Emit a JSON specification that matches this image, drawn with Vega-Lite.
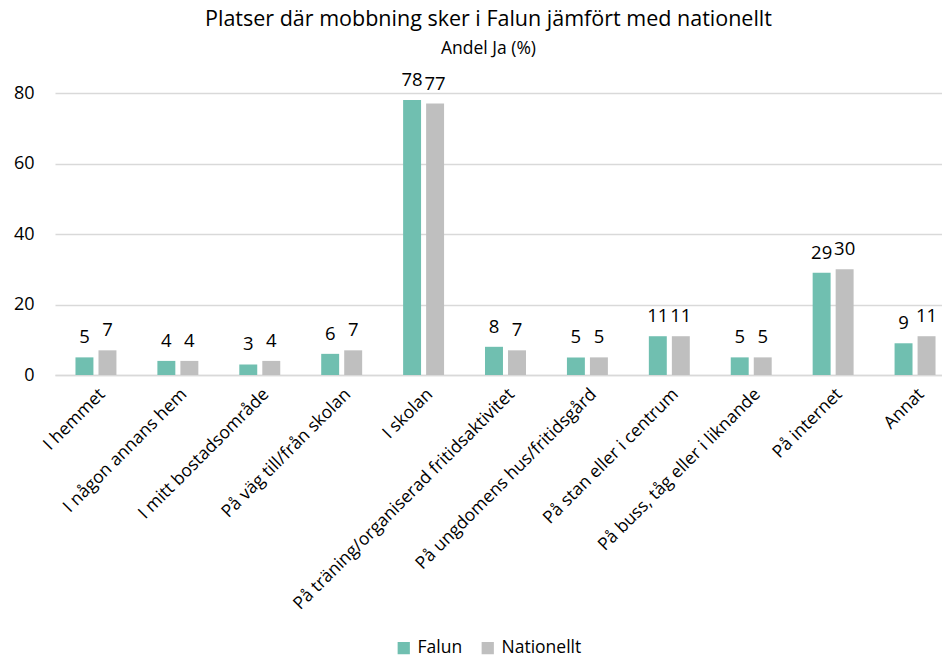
{
  "$schema": "https://vega.github.io/schema/vega-lite/v6.json",
  "width": 887,
  "height": 282,
  "autosize": "none",
  "padding": {"left": 55, "top": 93, "right": 0, "bottom": 285},
  "background": "white",
  "title": {
    "text": "Platser där mobbning sker i Falun jämfört med nationellt",
    "subtitle": "Andel Ja (%)",
    "font": "Open Sans",
    "fontSize": 21.5,
    "fontWeight": "normal",
    "color": "#000000",
    "subtitleFont": "Open Sans",
    "subtitleFontSize": 17.5,
    "subtitleColor": "#000000",
    "subtitlePadding": 9,
    "anchor": "middle",
    "dx": -10,
    "offset": 14
  },
  "data": {
    "values": [
      {"plats": "I hemmet", "serie": "Falun", "andel": 5},
      {"plats": "I hemmet", "serie": "Nationellt", "andel": 7},
      {"plats": "I någon annans hem", "serie": "Falun", "andel": 4},
      {"plats": "I någon annans hem", "serie": "Nationellt", "andel": 4},
      {"plats": "I mitt bostadsområde", "serie": "Falun", "andel": 3},
      {"plats": "I mitt bostadsområde", "serie": "Nationellt", "andel": 4},
      {"plats": "På väg till/från skolan", "serie": "Falun", "andel": 6},
      {"plats": "På väg till/från skolan", "serie": "Nationellt", "andel": 7},
      {"plats": "I skolan", "serie": "Falun", "andel": 78},
      {"plats": "I skolan", "serie": "Nationellt", "andel": 77},
      {"plats": "På träning/organiserad fritidsaktivitet", "serie": "Falun", "andel": 8},
      {"plats": "På träning/organiserad fritidsaktivitet", "serie": "Nationellt", "andel": 7},
      {"plats": "På ungdomens hus/fritidsgård", "serie": "Falun", "andel": 5},
      {"plats": "På ungdomens hus/fritidsgård", "serie": "Nationellt", "andel": 5},
      {"plats": "På stan eller i centrum", "serie": "Falun", "andel": 11},
      {"plats": "På stan eller i centrum", "serie": "Nationellt", "andel": 11},
      {"plats": "På buss, tåg eller i liknande", "serie": "Falun", "andel": 5},
      {"plats": "På buss, tåg eller i liknande", "serie": "Nationellt", "andel": 5},
      {"plats": "På internet", "serie": "Falun", "andel": 29},
      {"plats": "På internet", "serie": "Nationellt", "andel": 30},
      {"plats": "Annat", "serie": "Falun", "andel": 9},
      {"plats": "Annat", "serie": "Nationellt", "andel": 11}
    ]
  },
  "encoding": {
    "x": {
      "field": "plats",
      "type": "nominal",
      "sort": null,
      "title": null,
      "scale": {"paddingInner": 0.5, "paddingOuter": 0.25, "range": [0, 901]},
      "axis": {
        "labelAngle": -45,
        "labelAlign": "right",
        "labelBaseline": "top",
        "labelFont": "Open Sans",
        "labelFontSize": 17.5,
        "labelColor": "#000000",
        "labelPadding": 10,
        "labelDx": 4,
        "ticks": false,
        "domainColor": "#d9d9d9",
        "domainWidth": 1.5,
        "labelLimit": 400
      }
    },
    "xOffset": {"field": "serie", "type": "nominal", "scale": {"paddingInner": 0.22}},
    "y": {
      "field": "andel",
      "type": "quantitative",
      "title": null,
      "scale": {"domain": [0, 80], "nice": false},
      "axis": {
        "values": [0, 20, 40, 60, 80],
        "domain": false,
        "ticks": false,
        "gridColor": "#d9d9d9",
        "gridWidth": 1.5,
        "labelFont": "Open Sans",
        "labelFontSize": 18,
        "labelColor": "#000000",
        "labelPadding": 21
      }
    }
  },
  "layer": [
    {
      "mark": {"type": "bar"},
      "encoding": {
        "color": {
          "field": "serie",
          "type": "nominal",
          "scale": {"domain": ["Falun", "Nationellt"], "range": ["#70bfb0", "#bfbfbf"]},
          "legend": {
            "orient": "none",
            "direction": "horizontal",
            "legendX": 340,
            "legendY": 546,
            "padding": 0,
            "title": null,
            "symbolType": "square",
            "symbolSize": 150,
            "symbolStrokeWidth": 0,
            "labelFont": "Open Sans",
            "labelFontSize": 17.5,
            "labelColor": "#000000",
            "columnPadding": 16,
            "labelOffset": 5
          }
        }
      }
    },
    {
      "mark": {"type": "text", "baseline": "bottom", "dy": -10, "font": "Open Sans", "fontSize": 18.5, "color": "#000000"},
      "encoding": {"text": {"field": "andel", "type": "quantitative"}}
    }
  ],
  "config": {"view": {"stroke": null}}
}
